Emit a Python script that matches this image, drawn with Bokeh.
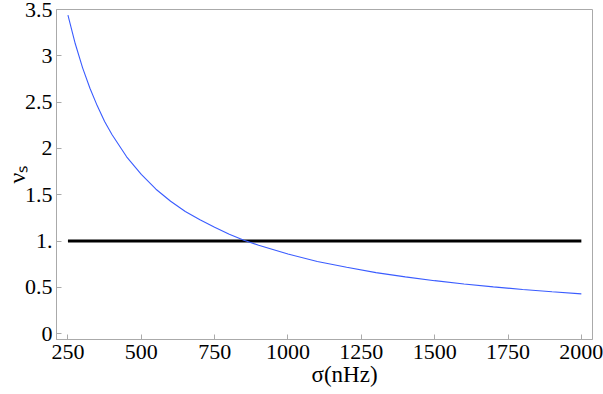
from bokeh.plotting import figure
from bokeh.models import Range1d, FixedTicker, Title
from bokeh.embed import file_html
from bokeh.resources import INLINE

# data
sigma = [250, 275, 300, 325, 350, 375, 400, 450, 500, 550, 600, 650, 700, 750,
         800, 850, 900, 1000, 1100, 1200, 1300, 1400, 1500, 1600, 1700, 1800, 1900, 2000]
nu_s = [3.44, 3.13, 2.87, 2.65, 2.46, 2.29, 2.15, 1.91, 1.72, 1.56, 1.43, 1.32, 1.23, 1.15,
        1.075, 1.01, 0.955, 0.86, 0.78, 0.717, 0.66, 0.614, 0.573, 0.537, 0.506, 0.478, 0.453, 0.43]
ref_x = [250, 2000]
ref_y = [1.0, 1.0]

x_ticks = [250, 500, 750, 1000, 1250, 1500, 1750, 2000]
x_tick_labels = ["250", "500", "750", "1000", "1250", "1500", "1750", "2000"]
y_ticks = [0, 0.5, 1, 1.5, 2, 2.5, 3, 3.5]
y_tick_labels = ["0", "0.5", "1.", "1.5", "2", "2.5", "3", "3.5"]

FONT = "Liberation Serif"
GRAY = "#aaaaaa"

p = figure(width=603, height=394, output_backend="svg", toolbar_location=None,
           x_range=Range1d(211, 2038), y_range=Range1d(-0.062, 3.5),
           min_border_left=56, min_border_right=11, min_border_top=9, min_border_bottom=55)
p.grid.visible = False
p.outline_line_color = GRAY
p.outline_line_width = 1

for ax in (p.xaxis[0], p.yaxis[0]):
    ax.axis_line_color = GRAY
    ax.major_tick_line_color = GRAY
    ax.major_tick_in = 5
    ax.major_tick_out = 0
    ax.minor_tick_line_color = None
    ax.major_label_text_font = FONT
    ax.major_label_text_font_size = "22px"
    ax.major_label_text_color = "black"

p.xaxis.ticker = FixedTicker(ticks=x_ticks)
p.xaxis.major_label_overrides = {t: l for t, l in zip(x_ticks, x_tick_labels)}
p.xaxis.major_label_standoff = 5
p.yaxis.ticker = FixedTicker(ticks=y_ticks)
p.yaxis.major_label_overrides = {t: l for t, l in zip(y_ticks, y_tick_labels)}
p.yaxis.major_label_standoff = 4

p.yaxis.axis_label = "νₛ"
p.yaxis.axis_label_text_font = FONT
p.yaxis.axis_label_text_font_size = "24px"
p.yaxis.axis_label_text_font_style = "normal"
p.yaxis.axis_label_text_color = "black"
p.yaxis.axis_label_standoff = -8

p.line(ref_x, ref_y, line_color="black", line_width=3)
p.line(sigma, nu_s, line_color="#3a5cff", line_width=1.1)

xt = Title(text="σ(nHz)", text_font=FONT, text_font_size="23px", text_font_style="normal",
           text_color="black", align="left", offset=255, standoff=-4)
p.add_layout(xt, "below")

open("out.html", "w").write(file_html(p, INLINE))
